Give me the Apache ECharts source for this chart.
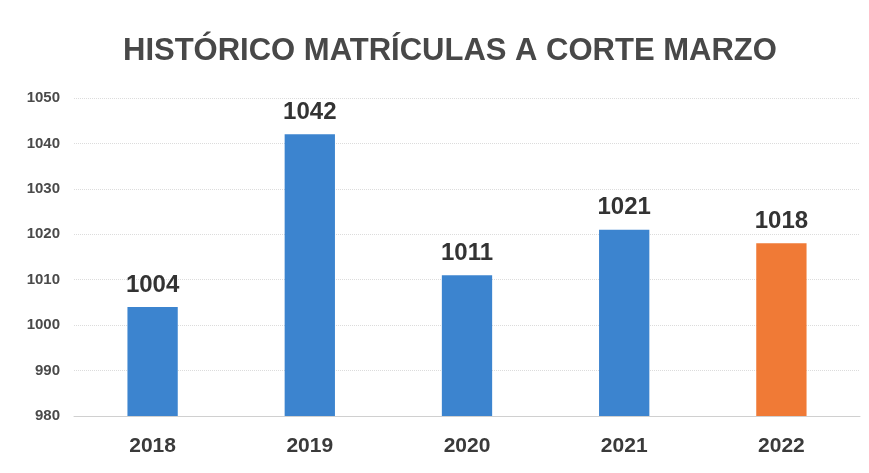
<!DOCTYPE html>
<html>
<head>
<meta charset="utf-8">
<script src="https://cdn.jsdelivr.net/npm/echarts@6/dist/echarts.min.js"></script>
<style>
  html, body { margin: 0; padding: 0; background: #fff; }
  #chart { width: 869px; height: 473px; }
</style>
</head>
<body>
<div id="chart"></div>
<script>
  // datos
  var years = ['2018', '2019', '2020', '2021', '2022'];
  var matriculas = [1004, 1042, 1011, 1021, 1018];
  var barColors = ['#3C84CF', '#3C84CF', '#3C84CF', '#3C84CF', '#F07A36'];

  var font = '"Liberation Sans Narrow", "Arial Narrow", "Liberation Sans", sans-serif';
  var myChart = echarts.init(document.getElementById('chart'));

  myChart.setOption({
    backgroundColor: '#fff',
    animation: false,
    title: {
      text: 'HISTÓRICO MATRÍCULAS A CORTE MARZO',
      left: 118,
      top: 31,
      textStyle: {
        color: '#484848',
        fontFamily: font,
        fontWeight: 'bold',
        fontSize: 31
      }
    },
    grid: { left: 74, right: 9, top: 98, bottom: 57 },
    xAxis: {
      type: 'category',
      data: years,
      axisTick: { show: false },
      axisLine: { lineStyle: { color: '#d0d0d0' } },
      axisLabel: {
        margin: 20,
        color: '#3a3a3a',
        fontFamily: font,
        fontWeight: 'bold',
        fontSize: 21
      }
    },
    yAxis: {
      type: 'value',
      min: 980,
      max: 1050,
      interval: 10,
      axisLine: { show: false },
      axisTick: { show: false },
      splitLine: { lineStyle: { color: '#dcdcdc', type: 'dotted' } },
      axisLabel: {
        margin: 14,
        color: '#4a4a4a',
        fontFamily: font,
        fontWeight: 'bold',
        fontSize: 15,
        formatter: function (v) { return String(v); }
      }
    },
    series: [{
      type: 'bar',
      barWidth: '32%',
      data: matriculas.map(function (v, i) {
        return { value: v, itemStyle: { color: barColors[i] } };
      }),
      label: {
        show: true,
        position: 'top',
        distance: 10,
        color: '#333',
        fontFamily: font,
        fontWeight: 'bold',
        fontSize: 24
      }
    }]
  });
</script>
</body>
</html>
